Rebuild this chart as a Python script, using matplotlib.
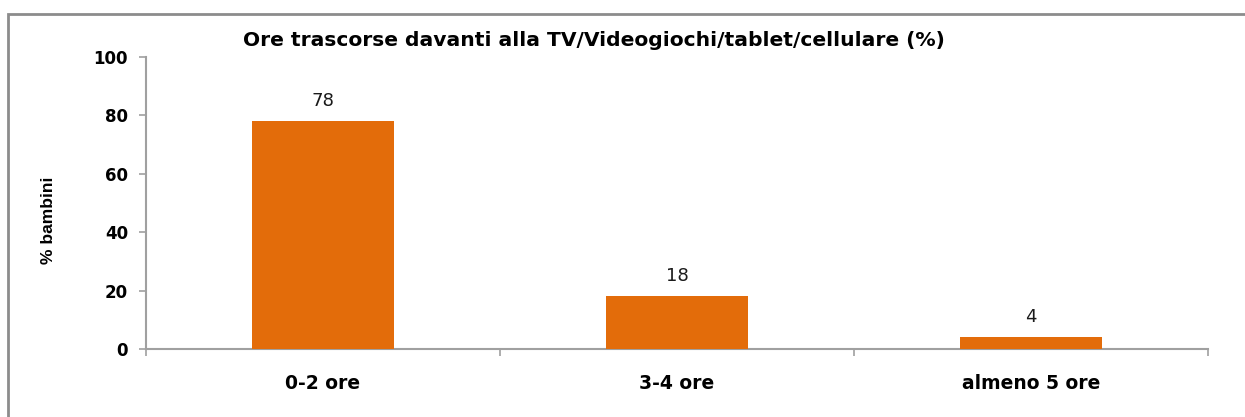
import matplotlib.pyplot as plt
from matplotlib.patches import Rectangle

# Data
categories = ['0-2 ore', '3-4 ore', 'almeno 5 ore']
values = [78, 18, 4]
y_ticks = [0, 20, 40, 60, 80, 100]

title = 'Ore trascorse davanti alla TV/Videogiochi/tablet/cellulare (%)'
y_label = '% bambini'

bar_color = '#E36C0A'
axis_color = '#A0A0A0'

W, H = 1245, 417
fig = plt.figure(figsize=(W / 100, H / 100), dpi=100)

# outer frame (extends past right and bottom edges like in the picture)
frame = Rectangle((8 / W, -0.05), 1.1, 1 - 14 / H + 0.05, transform=fig.transFigure,
                  fill=False, edgecolor='#8C8C8C', linewidth=2.0)
fig.patches.append(frame)

# axes area in pixels: x 146..1208, y 57..349 from top
ax = fig.add_axes([146 / W, 1 - 349 / H, (1208 - 146) / W, (349 - 57) / H])

x = list(range(len(categories)))
bars = ax.bar(x, values, width=0.40, color=bar_color, zorder=3)

for xi, v in zip(x, values):
    ax.text(xi, v + 7, str(v), ha='center', va='center', fontsize=13, color='#1a1a1a')

ax.set_xlim(-0.5, len(categories) - 0.5)
ax.set_ylim(0, 100)
ax.set_yticks(y_ticks)
ax.set_yticklabels([str(t) for t in y_ticks], fontsize=12, fontweight='bold')

# category labels in the middle, tick marks at the boundaries
ax.set_xticks([i - 0.5 for i in range(len(categories) + 1)])
ax.set_xticklabels([''] * (len(categories) + 1))
ax.set_xticks(x, minor=True)
ax.set_xticklabels(categories, minor=True, fontsize=13.5, fontweight='bold')
ax.tick_params(axis='x', which='minor', length=0, pad=18)
ax.tick_params(axis='x', which='major', length=5, color=axis_color, width=1.2, direction='out')
ax.tick_params(axis='y', length=5, color=axis_color, width=1.2, direction='out', pad=8)

for side in ['top', 'right']:
    ax.spines[side].set_visible(False)
for side in ['left', 'bottom']:
    ax.spines[side].set_color(axis_color)
    ax.spines[side].set_linewidth(1.5)

fig.text(594 / W, 1 - 41 / H, title, ha='center', va='center', fontsize=14.6, fontweight='bold')
fig.text(48 / W, 1 - 220 / H, y_label, ha='center', va='center', rotation=90,
         fontsize=12.5, fontweight='bold', family=['Liberation Sans', 'DejaVu Sans'])

fig.savefig('out.png', dpi=100)
